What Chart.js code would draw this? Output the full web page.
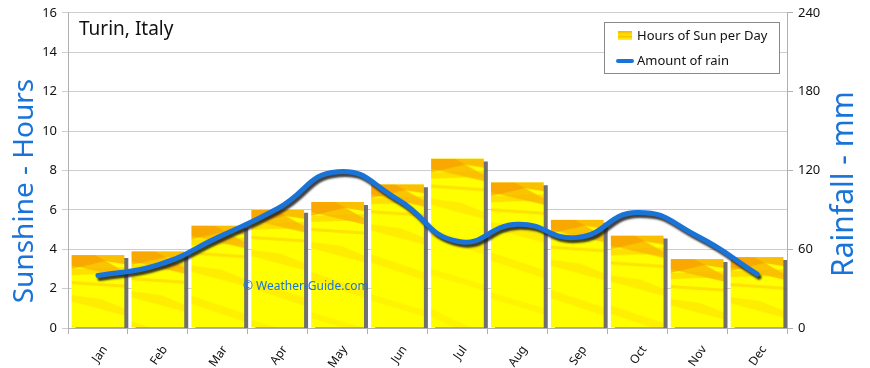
<!DOCTYPE html>
<html><head><meta charset="utf-8">
<script src="https://cdn.jsdelivr.net/npm/chart.js@4.4.1/dist/chart.umd.min.js"></script>
<style>html,body{margin:0;padding:0;background:#fff}#wrap{width:870px;height:368px}</style>
</head><body><div id="wrap"><canvas id="c" width="870" height="368"></canvas></div>
<script>
const months = ['Jan','Feb','Mar','Apr','May','Jun','Jul','Aug','Sep','Oct','Nov','Dec'];
const sunHours = [3.7, 3.9, 5.2, 6.0, 6.4, 7.3, 8.6, 7.4, 5.5, 4.7, 3.5, 3.6];
const rainMm = [40, 48, 69, 91, 119, 98, 66, 79, 69, 88, 70, 41];
const sunTicks = [0,2,4,6,8,10,12,14,16];
const rainTicks = [0,60,120,180,240];
const titleText = 'Turin, Italy';
const leftTitle = 'Sunshine - Hours';
const rightTitle = 'Rainfall - mm';
const watermark = '\u00A9 Weather-Guide.com';
const FONT = '"Noto Sans", sans-serif';
const BLUE = '#1a74d8';

// texture tile for the sunshine bars (decorative fill only)
const tile = document.createElement('canvas');
tile.width = 60; tile.height = 340;
(function(){
  const t = tile.getContext('2d');
  t.fillStyle = '#ffff00'; t.fillRect(0,0,60,340);
  function band(pts, col){ t.fillStyle = col; t.beginPath(); t.moveTo(pts[0][0],pts[0][1]); for(let i=1;i<pts.length;i++) t.lineTo(pts[i][0],pts[i][1]); t.closePath(); t.fill(); }
  band([[0,0],[60,0],[60,10],[34,6],[0,14]], 'rgba(248,170,0,0.75)');
  band([[0,0],[24,0],[60,20],[60,24],[0,10]], 'rgba(245,150,0,0.55)');
  band([[0,14],[60,12],[60,18],[0,20]], 'rgba(250,185,0,0.45)');
  band([[0,26],[60,30],[60,33],[0,29]], 'rgba(250,175,0,0.35)');
  band([[0,40],[30,44],[60,56],[60,62],[0,46]], 'rgba(250,190,0,0.28)');
  band([[0,70],[60,90],[60,98],[0,78]], 'rgba(252,196,0,0.25)');
  band([[0,110],[60,128],[60,134],[0,116]], 'rgba(252,200,0,0.22)');
  band([[0,150],[60,178],[60,186],[0,158]], 'rgba(252,200,0,0.2)');
  band([[0,200],[60,226],[60,232],[0,206]], 'rgba(252,205,0,0.18)');
})();

function barFill(ctx){
  const chart = ctx.chart;
  if (!chart.chartArea || ctx.type !== 'data') return '#ffff00';
  const top = chart.scales.y.getPixelForValue(ctx.raw);
  const xc = chart.scales.x.getPixelForValue(ctx.dataIndex);
  const p = chart.ctx.createPattern(tile, 'repeat');
  if (p.setTransform) p.setTransform(new DOMMatrix().translate(xc - 27, top));
  return p;
}

const shadowPlugin = {
  id: 'shadows',
  beforeDatasetDraw(chart, args){
    const c = chart.ctx; c.save();
    if (args.meta.type === 'bar'){
      c.shadowColor = 'rgba(95,95,95,0.9)'; c.shadowOffsetX = 4; c.shadowOffsetY = 3; c.shadowBlur = 1;
    } else {
      c.shadowColor = 'rgba(30,30,30,0.85)'; c.shadowOffsetX = 2; c.shadowOffsetY = 3; c.shadowBlur = 2;
    }
  },
  afterDatasetDraw(chart){ chart.ctx.restore(); }
};

const decorPlugin = {
  id: 'decor',
  afterDraw(chart){
    const c = chart.ctx;
    c.save();
    c.fillStyle = '#111'; c.font = '19px ' + FONT; c.textBaseline = 'middle'; c.textAlign = 'left';
    c.fillText(titleText, 79, 30);
    c.fillStyle = BLUE; c.font = '12px ' + FONT;
    c.fillText(watermark, 243, 287);
    c.textAlign = 'center';
    c.font = '28px ' + FONT;
    c.save(); c.translate(25, 191); c.rotate(-Math.PI/2); c.fillText(leftTitle, 0, 0); c.restore();
    c.font = '30px ' + FONT;
    c.save(); c.translate(844, 184); c.rotate(-Math.PI/2); c.fillText(rightTitle, 0, 0); c.restore();
    c.fillStyle = '#fff'; c.fillRect(604.5, 22.5, 175, 51);
    c.strokeStyle = '#8a8a8a'; c.lineWidth = 1; c.strokeRect(604.5, 22.5, 175, 51);
    const lg = c.createLinearGradient(0, 31, 0, 40);
    lg.addColorStop(0, '#f8b000'); lg.addColorStop(0.45, '#ffe800'); lg.addColorStop(0.6, '#f8c000'); lg.addColorStop(1, '#ffff00');
    c.fillStyle = lg; c.fillRect(618, 31, 14, 9);
    c.strokeStyle = BLUE; c.lineWidth = 4; c.lineCap = 'round';
    c.beginPath(); c.moveTo(618, 61); c.lineTo(632, 61); c.stroke();
    c.fillStyle = '#111'; c.font = '13px ' + FONT; c.textAlign = 'left';
    c.fillText(chart.data.datasets[1].label, 637, 36);
    c.fillText(chart.data.datasets[0].label, 637, 61);
    c.restore();
  }
};

new Chart(document.getElementById('c'), {
  data: {
    labels: months,
    datasets: [
      { type: 'line', label: 'Amount of rain', data: rainMm, yAxisID: 'y1',
        borderColor: BLUE, borderWidth: 5, tension: 0.5, pointRadius: 0, fill: false,
        borderCapStyle: 'round', order: 0 },
      { type: 'bar', label: 'Hours of Sun per Day', data: sunHours, yAxisID: 'y',
        backgroundColor: barFill, borderWidth: 0, categoryPercentage: 1, barPercentage: 0.88, order: 1 }
    ]
  },
  options: {
    responsive: false, animation: false, devicePixelRatio: 1,
    layout: { padding: { top: 9, left: 0, right: 0, bottom: 0 } },
    plugins: { legend: { display: false }, tooltip: { enabled: false }, title: { display: false } },
    scales: {
      x: {
        offset: true,
        grid: { display: true, offset: true, drawOnChartArea: false, drawTicks: true, tickLength: 6, color: '#b0b0b0' },
        border: { display: true, color: '#b0b0b0' },
        ticks: { color: '#111', font: { family: FONT, size: 12 }, minRotation: 55, maxRotation: 55, padding: 9, labelOffset: 7 },
        afterFit(s){ s.height = 40; }
      },
      y: {
        position: 'left', min: 0, max: 16,
        afterBuildTicks(s){ s.ticks = sunTicks.map(v => ({ value: v })); },
        grid: { color: '#cdcdcd', tickLength: 6, drawTicks: true },
        border: { display: true, color: '#b0b0b0' },
        ticks: { color: '#111', font: { family: FONT, size: 13 }, padding: 5 },
        afterFit(s){ s.width = 68; }
      },
      y1: {
        position: 'right', min: 0, max: 240,
        afterBuildTicks(s){ s.ticks = rainTicks.map(v => ({ value: v })); },
        grid: { drawOnChartArea: false, tickLength: 6, color: '#b0b0b0' },
        border: { display: true, color: '#b0b0b0' },
        ticks: { color: '#111', font: { family: FONT, size: 13 }, padding: 5 },
        afterFit(s){ s.width = 83; }
      }
    }
  },
  plugins: [shadowPlugin, decorPlugin]
});
</script></body></html>
